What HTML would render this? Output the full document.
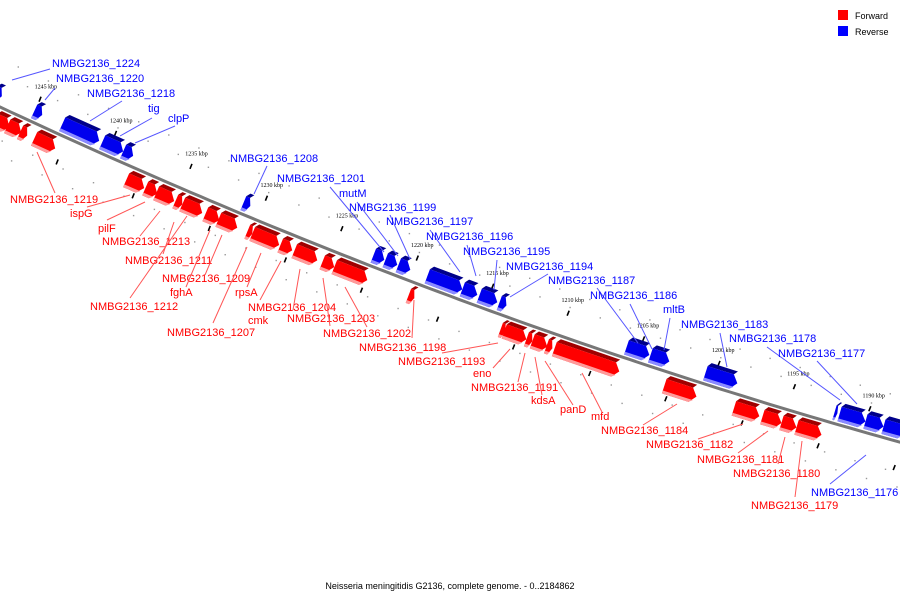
<!DOCTYPE html>
<html><head><meta charset="utf-8">
<style>
html,body{margin:0;padding:0;background:#fff;}
svg{display:block;font-family:"Liberation Sans","DejaVu Sans",sans-serif;}
</style></head>
<body>
<svg id="map" width="900" height="600" viewBox="0 0 900 600">
  <g id="dots"></g>
  <g id="ticks"></g>
  <path id="backbone" fill="none" stroke="#777" stroke-width="3"/>
  <g id="genes"></g>
  <g id="labels"></g>
  <g>
    <rect x="838" y="10" width="10" height="10" fill="#ff0000"/>
    <text x="855" y="19" font-size="9" fill="#000">Forward</text>
    <rect x="838" y="26" width="10" height="10" fill="#0000ff"/>
    <text x="855" y="35" font-size="9" fill="#000">Reverse</text>
  </g>
  <text x="450" y="589" font-size="9" text-anchor="middle" fill="#000">Neisseria meningitidis G2136, complete genome. - 0..2184862</text>
</svg>
<script>
// kbp positions
const tickKbp = [1245,1240,1235,1230,1225,1220,1215,1210,1205,1200,1195,1190];
const fwdStart = [1247.3,1246.45,1245.6,1244.67,1238.6,1237.34,1236.62,1235.36,1234.9,1233.38,1232.52,1230.61,1230.28,1228.43,1227.51,1225.66,1224.87,1219.98,1213.91,1213.65,1212.19,1211.8,1210.87,1210.35,1203.1,1198.5,1196.62,1195.36,1194.37];
const fwdEnd   = [1246.3,1245.53,1245.13,1243.28,1237.41,1236.55,1235.43,1234.9,1233.58,1232.46,1231.27,1230.28,1228.5,1227.64,1225.99,1224.87,1222.69,1219.59,1213.58,1212.19,1211.8,1210.81,1210.48,1206.06,1200.97,1196.82,1195.36,1194.37,1192.72];
const revStart = [1247.3,1244.67,1242.82,1240.18,1238.8,1230.87,1222.29,1221.5,1220.64,1218.73,1216.42,1215.3,1213.98,1205.59,1204.01,1200.38,1191.86,1191.53,1189.82,1188.63];
const revEnd   = [1246.8,1244.14,1240.38,1238.8,1238.14,1230.41,1221.57,1220.71,1219.85,1216.42,1215.43,1214.11,1213.51,1204.08,1202.76,1198.27,1191.67,1189.82,1188.63,1187.2];

const NS="http://www.w3.org/2000/svg";
function kx(k){return 30+(1245-k)*15.15;}
function ly(x){return 107+0.4678*x-0.000106*x*x;}
function ang(x){return Math.atan(0.4678-0.000212*x);}
function mk(tag,attrs,parent){const e=document.createElementNS(NS,tag);for(const a in attrs)e.setAttribute(a,attrs[a]);parent.appendChild(e);return e;}

let d="";for(let x=-10;x<=910;x+=10){d+=(x===-10?"M":"L")+x+","+ly(x).toFixed(1);}
document.getElementById('backbone').setAttribute('d',d);

const dots=document.getElementById('dots');
const ticks=document.getElementById('ticks');
function off(x,o){const t=ang(x);return [x-Math.sin(t)*o, ly(x)+Math.cos(t)*o];}
for(let k=1248;k>=1186;k--){
  const x=kx(k);
  const rows=(k%2===0)?[-30,30]:[-44,44];
  rows.forEach(o=>{const p=off(x,o);
    const c=mk('rect',{x:(p[0]-0.7).toFixed(1),y:(p[1]-0.7).toFixed(1),width:1.4,height:1.4,fill:'#999'},dots);
    
    
  });
}
tickKbp.forEach(k=>{
  const x=kx(k);
  const p=off(x,-24);
  const t=mk('line',{x1:p[0]-1,y1:p[1]+2.5,x2:p[0]+1,y2:p[1]-2.5,stroke:'#000','stroke-width':1.6},ticks);
  
  
  const q=off(kx(k-2.5),26);
  const t2=mk('line',{x1:q[0]-1,y1:q[1]+2.5,x2:q[0]+1,y2:q[1]-2.5,stroke:'#000','stroke-width':1.6},ticks);
  
  
  const l=off(x,-38);
  const tx=mk('text',{x:l[0].toFixed(1),y:(l[1]+2).toFixed(1),'font-size':6,'font-family':'Liberation Serif, serif','text-anchor':'middle',fill:'#000'},ticks);
  tx.textContent=k+" kbp";
  
  
});

const genes=document.getElementById('genes');
function gene(ks,ke,fwd){
  const x1=kx(ks),x2=kx(ke),xc=(x1+x2)/2,th=ang(xc);
  const L=(x2-x1)/Math.cos(th);
  const v0=fwd?3:-22,v1=fwd?22:-3;
  const vmid=(v0+v1)/2;
  const xs=xc+Math.sin(th)*vmid, ys=ly(xs);
  const u0=-L/2,u1=L/2,tip=Math.min(6,L*0.45);
  const main=fwd?'#ff0000':'#0000ee',dark=fwd?'#a00000':'#00008a',light=fwd?'#ff9a9a':'#8a8aff';
  const g=mk('g',{transform:`translate(${xs.toFixed(1)},${ys.toFixed(1)}) rotate(${(th*180/Math.PI).toFixed(2)})`},genes);
  
  
  const vt=v0+4,vm=(vt+v1)/2;
  mk('polygon',{points:`${u0+3},${v0} ${u1-tip+3},${v0} ${u1-tip},${vt} ${u0},${vt}`,fill:dark},g);
  mk('polygon',{points:`${u0},${vt} ${u1-tip},${vt} ${u1},${vm} ${u1-tip},${v1} ${u0},${v1}`,fill:main},g);
  const hb=(v1-vt)/2, bx=u1-tip*(3/hb);
  mk('polygon',{points:`${u0},${v1-3} ${bx},${v1-3} ${u1-tip},${v1} ${u0},${v1}`,fill:light},g);
}
for(let i=0;i<fwdStart.length;i++)gene(fwdStart[i],fwdEnd[i],true);
for(let i=0;i<revStart.length;i++)gene(revStart[i],revEnd[i],false);

const labelNames=["NMBG2136_1224","NMBG2136_1220","NMBG2136_1218","tig","clpP","NMBG2136_1208","NMBG2136_1201","mutM","NMBG2136_1199","NMBG2136_1197","NMBG2136_1196","NMBG2136_1195","NMBG2136_1194","NMBG2136_1187","NMBG2136_1186","mltB","NMBG2136_1183","NMBG2136_1178","NMBG2136_1177","NMBG2136_1176",
"NMBG2136_1219","ispG","pilF","NMBG2136_1213","NMBG2136_1211","NMBG2136_1209","fghA","NMBG2136_1212","rpsA","NMBG2136_1207","NMBG2136_1204","cmk","NMBG2136_1203","NMBG2136_1202","NMBG2136_1198","NMBG2136_1193","eno","NMBG2136_1191","kdsA","panD","mfd","NMBG2136_1184","NMBG2136_1182","NMBG2136_1181","NMBG2136_1180","NMBG2136_1179"];
const L=[
[52,67,50,69,12,80,0],[56,82,55,88,45,100,0],[87,97,122,101,90,121,0],[148,112,152,118,120,136,0],[168,122,175,126,135,143,0],
[230,162,267,166,254,194,0],[277,182,330,187,384,252,0],[339,197,357,202,398,256,0],[349,211,390,215,410,259,0],[386,225,430,230,460,272,0],
[426,240,467,245,476,276,0],[463,255,497,260,494,290,0],[506,270,548,274,510,297,0],[548,284,597,288,638,343,0],[590,299,630,304,652,349,0],
[663,313,670,318,664,350,0],[681,328,720,333,727,367,0],[729,342,767,347,840,400,0],[778,357,817,361,857,404,0],[811,496,830,484,866,455,0],
[10,203,55,193,37,152,1],[70,217,87,207,130,195,1],[98,232,107,220,145,202,1],[102,245,140,236,160,211,1],[125,264,163,254,174,222,1],
[162,282,205,275,222,235,1],[170,296,186,287,210,230,1],[90,310,130,298,187,216,1],[235,296,247,287,261,253,1],[167,336,213,323,247,247,1],
[248,311,260,300,281,261,1],[248,324,0,0,0,0,1],[287,322,293,310,300,269,1],[323,337,330,326,323,278,1],[359,351,412,338,414,300,1],
[398,365,442,353,498,343,1],[473,377,493,368,510,349,1],[471,391,518,382,525,353,1],[531,404,542,395,535,357,1],[560,413,573,405,545,361,1],
[591,420,602,412,582,373,1],[601,434,643,425,677,404,1],[646,448,698,439,743,424,1],[697,463,738,453,768,431,1],[733,477,778,464,785,437,1],
[751,509,795,497,802,441,1]];
const extraLine=[367,327,345,287];
const labels=document.getElementById('labels');
L.forEach((r,i)=>{
  const col=r[6]?'#ff0000':'#0000ff',lc=r[6]?'#ff5555':'#5555ff';
  if(r[2]||r[3]){
    const ln=mk('line',{x1:r[2],y1:r[3],x2:r[4],y2:r[5],stroke:lc,'stroke-width':1},labels);
    
    
  }
  const t=mk('text',{x:r[0],y:r[1],'font-size':11,fill:col},labels);
  t.textContent=labelNames[i];
  
  
});
const el=mk('line',{x1:extraLine[0],y1:extraLine[1],x2:extraLine[2],y2:extraLine[3],stroke:'#ff5555','stroke-width':1},labels);


</script>
</body></html>
